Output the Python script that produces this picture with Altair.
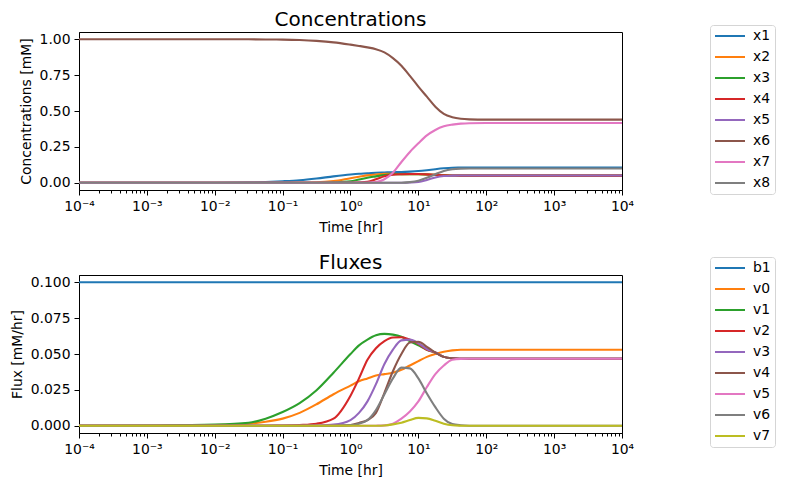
import altair as alt
import pandas as pd

# time grid (hours), log-spaced sample points
TIME = [1e-4, 1e-3, 1e-2, 0.0316, 0.0562, 0.1, 0.178, 0.316, 0.562, 1.0, 1.334, 1.778, 2.371,
        3.162, 4.217, 5.623, 7.499, 10.0, 13.34, 17.78, 23.71, 31.62, 42.17, 56.23,
        100.0, 1000.0, 10000.0]

# Concentrations [mM]
CONC_NAMES = ["x1", "x2", "x3", "x4", "x5", "x6", "x7", "x8"]
x1 = [0, 0.0003, 0.001, 0.003, 0.006, 0.011, 0.018, 0.03, 0.045, 0.058, 0.063, 0.066, 0.07, 0.072,
      0.074, 0.075, 0.078, 0.082, 0.088, 0.095, 0.101, 0.105, 0.106, 0.107, 0.107, 0.107, 0.107]
x2 = [0, 0, 0, 0.0002, 0.0004, 0.0008, 0.0015, 0.003, 0.012, 0.032, 0.042, 0.052, 0.058, 0.062,
      0.062, 0.06, 0.06, 0.06, 0.058, 0.055, 0.052, 0.051, 0.05, 0.05, 0.05, 0.05, 0.05]
x3 = [0, 0, 0, 0, 0.0001, 0.0002, 0.0005, 0.001, 0.003, 0.01, 0.023, 0.035, 0.045, 0.055,
      0.06, 0.06, 0.06, 0.06, 0.058, 0.055, 0.052, 0.051, 0.05, 0.05, 0.05, 0.05, 0.05]
x4 = [0, 0, 0, 0, 0, 0, 0, 0.0002, 0.0005, 0.001, 0.003, 0.008, 0.025, 0.045,
      0.057, 0.06, 0.061, 0.061, 0.059, 0.056, 0.052, 0.051, 0.05, 0.05, 0.05, 0.05, 0.05]
x5 = [0, 0, 0, 0, 0, 0, 0, 0, 0, 0, 0, 0, 0, 0,
      0.0002, 0.0005, 0.002, 0.006, 0.02, 0.037, 0.047, 0.05, 0.051, 0.051, 0.051, 0.051, 0.051]
x6 = [1.0, 1.0, 1.0, 0.999, 0.998, 0.997, 0.994, 0.988, 0.978, 0.962, 0.953, 0.943, 0.93, 0.908,
      0.868, 0.815, 0.745, 0.67, 0.6, 0.53, 0.48, 0.457, 0.446, 0.442, 0.44, 0.44, 0.44]
x7 = [0, 0, 0, 0, 0, 0, 0, 0, 0, 0, 0, 0.001, 0.005, 0.025,
      0.07, 0.145, 0.215, 0.275, 0.33, 0.368, 0.393, 0.405, 0.412, 0.415, 0.416, 0.416, 0.416]
x8 = [0, 0, 0, 0, 0, 0, 0, 0, 0, 0, 0, 0, 0, 0,
      0.0003, 0.001, 0.005, 0.015, 0.035, 0.06, 0.083, 0.095, 0.099, 0.1, 0.1, 0.1, 0.1]
CONC = [x1, x2, x3, x4, x5, x6, x7, x8]

# Fluxes [mM/hr]
FLUX_NAMES = ["b1", "v0", "v1", "v2", "v3", "v4", "v5", "v6", "v7"]
b1 = [0.1] * 27
v0 = [0, 0.0001, 0.0005, 0.0015, 0.0028, 0.005, 0.009, 0.015, 0.022, 0.028, 0.031, 0.033, 0.035, 0.036,
      0.037, 0.039, 0.042, 0.045, 0.048, 0.05, 0.0515, 0.0525, 0.053, 0.053, 0.053, 0.053, 0.053]
v1 = [0, 0.0002, 0.0008, 0.0021, 0.005, 0.0096, 0.0158, 0.0248, 0.037, 0.05, 0.056, 0.06, 0.063, 0.064,
      0.0635, 0.062, 0.059, 0.056, 0.053, 0.051, 0.048, 0.047, 0.0467, 0.0466, 0.0466, 0.0466, 0.0466]
v2 = [0, 0, 0, 0, 0.0001, 0.0002, 0.0006, 0.0015, 0.005, 0.021, 0.033, 0.046, 0.054, 0.059,
      0.0615, 0.0617, 0.06, 0.057, 0.053, 0.051, 0.048, 0.047, 0.0467, 0.0466, 0.0466, 0.0466, 0.0466]
v3 = [0, 0, 0, 0, 0, 0, 0, 0.0002, 0.0008, 0.004, 0.009, 0.017, 0.029, 0.043,
      0.053, 0.0595, 0.06, 0.0575, 0.0535, 0.051, 0.048, 0.047, 0.0467, 0.0466, 0.0466, 0.0466, 0.0466]
v4 = [0, 0, 0, 0, 0, 0, 0, 0, 0.0001, 0.0005, 0.002, 0.004, 0.009, 0.023,
      0.038, 0.05, 0.058, 0.0585, 0.055, 0.051, 0.048, 0.047, 0.0467, 0.0466, 0.0466, 0.0466, 0.0466]
v5 = [0, 0, 0, 0, 0, 0, 0, 0, 0, 0, 0, 0, 0.0001, 0.0003,
      0.0015, 0.005, 0.01, 0.017, 0.027, 0.036, 0.042, 0.046, 0.0466, 0.0467, 0.0467, 0.0467, 0.0467]
v6 = [0, 0, 0, 0, 0, 0, 0, 0, 0.0001, 0.0005, 0.0015, 0.004, 0.011, 0.022,
      0.033, 0.0405, 0.04, 0.033, 0.0225, 0.013, 0.005, 0.0012, 0.0004, 0.0001, 0, 0, 0]
v7 = [0, 0, 0, 0, 0, 0, 0, 0, 0, 0, 0, 0, 0, 0.0002,
      0.001, 0.0022, 0.004, 0.0055, 0.0052, 0.0035, 0.0015, 0.0004, 0.0001, 0, 0, 0, 0]
FLUX = [b1, v0, v1, v2, v3, v4, v5, v6, v7]

TAB10 = ["#1f77b4", "#ff7f0e", "#2ca02c", "#d62728", "#9467bd",
         "#8c564b", "#e377c2", "#7f7f7f", "#bcbd22"]

# axis ticks and labels
X_MAJOR = [1e-4, 1e-3, 1e-2, 1e-1, 1e0, 1e1, 1e2, 1e3, 1e4]
X_MINOR = [m * d for d in X_MAJOR[:-1] for m in range(2, 10)]
X_LABELS = ["10⁻⁴", "10⁻³", "10⁻²", "10⁻¹", "10⁰", "10¹", "10²", "10³", "10⁴"]
CONC_TICKS = [0.0, 0.25, 0.5, 0.75, 1.0]
FLUX_TICKS = [0.0, 0.025, 0.05, 0.075, 0.1]

FONT = "DejaVu Sans"
FS = 13.9


def long_table(names, series):
    rows = []
    for i, (n, vals) in enumerate(zip(names, series)):
        for t, v in zip(TIME, vals):
            rows.append({"s": n, "t": t, "v": v, "k": i})
    return pd.DataFrame(rows)


is_major = "abs(log(datum.value)/LN10 - round(log(datum.value)/LN10)) < 0.01"
label_arr = "[" + ",".join("'%s'" % s for s in X_LABELS) + "]"
label_expr = f"{is_major} ? {label_arr}[round(log(datum.value)/LN10) + 4] : ''"


def panel(names, series, colors, title, ytitle, ydomain, yticks, yfmt, legend_y, title_offset):
    df = long_table(names, series)
    return alt.Chart(df).mark_line(strokeWidth=2.1, interpolate="monotone", clip=True).encode(
        x=alt.X("t:Q",
                scale=alt.Scale(type="log", domain=[1e-4, 1e4], nice=False),
                axis=alt.Axis(values=X_MAJOR + X_MINOR, labelExpr=label_expr,
                              tickSize={"condition": {"test": is_major, "value": 5}, "value": 3},
                              labelOverlap=False, labelFlush=False, labelPadding=4,
                              title="Time [hr]", titlePadding=8, grid=False)),
        y=alt.Y("v:Q",
                scale=alt.Scale(domain=ydomain, nice=False, zero=False),
                axis=alt.Axis(values=yticks, format=yfmt, tickSize=5, labelPadding=4,
                              title=ytitle, titlePadding=6, grid=False)),
        color=alt.Color("s:N", scale=alt.Scale(domain=names, range=colors),
                        legend=alt.Legend(orient="none", legendX=631, legendY=legend_y,
                                          title=None, symbolType="stroke", symbolSize=900,
                                          symbolStrokeWidth=2, clipHeight=14, rowPadding=7,
                                          labelFontSize=FS, labelFont=FONT, labelOffset=7,
                                          labelColor="black", padding=4,
                                          strokeColor="#d5d5d5", cornerRadius=3,
                                          fillColor="white")),
        detail="k:O",
    ).properties(
        width=543, height=158,
        title=alt.TitleParams(text=title, fontSize=20, font=FONT, fontWeight="normal",
                              anchor="middle", frame="group", offset=title_offset,
                              baseline="alphabetic", color="black"),
    )


top = panel(CONC_NAMES, CONC, TAB10[:8], "Concentrations", "Concentrations [mM]",
            [-0.05, 1.05], CONC_TICKS, ".2f", -7, -21.6)
bottom = panel(FLUX_NAMES, FLUX, TAB10, "Fluxes", "Flux [mM/hr]",
               [-0.005, 0.105], FLUX_TICKS, ".3f", -18, -32.6)

chart = alt.vconcat(top, bottom, spacing=85, bounds="flush").resolve_scale(
    color="independent"
).properties(
    padding={"left": 9, "top": 9, "right": 0, "bottom": 0},
    background="white",
).configure(font=FONT).configure_axis(
    labelFontSize=FS, titleFontSize=FS, titleFontWeight="normal", labelFont=FONT,
    titleFont=FONT, domainColor="black", tickColor="black", labelColor="black",
    titleColor="black", tickWidth=1, domainWidth=1,
).configure_view(stroke="black", strokeWidth=1)

chart.save("out.html", embed_options={"renderer": "svg", "actions": False})
